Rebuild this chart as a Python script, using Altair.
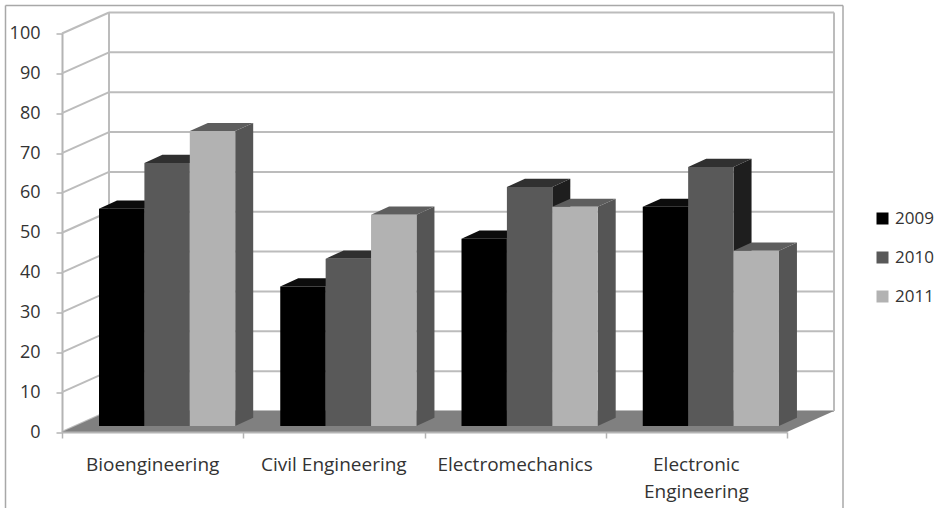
import altair as alt
import pandas as pd

# Values per programme and year
categories = ["Bioengineering", "Civil Engineering", "Electromechanics", "Electronic\nEngineering"]
years = ["2009", "2010", "2011"]
values_2009 = [54.5, 35, 47, 55]
values_2010 = [66, 42, 60, 65]
values_2011 = [74, 53, 55, 44]
y_ticks = list(range(0, 101, 10))
x_ticks = [0, 1, 2, 3, 4]

series = {"2009": values_2009, "2010": values_2010, "2011": values_2011}
front_colors = ["#000000", "#595959", "#b2b2b2"]
top_colors = ["#0c0c0c", "#303030", "#5e5e5e"]
side_colors = ["#050505", "#1e1e1e", "#555555"]

FONT = "Open Sans"
TEXT = "#333333"

# Plot geometry in pixels; one category spans CAT_PX, one value unit spans UNIT_PX
LEFT, TOP = 62, 33.5
CAT_PX = 181.25
UNIT_PX = 3.985
W, H = CAT_PX * 4, UNIT_PX * 100

# Oblique projection of the depth axis, expressed in data units
WALL_DX, WALL_DY = 47 / CAT_PX, 21 / UNIT_PX
BAR_DX, BAR_DY = 18 / CAT_PX, 8.2 / UNIT_PX
BAR_START, PLANE_DY = 37 / CAT_PX, 6 / UNIT_PX
BAR_W = 45.4 / CAT_PX

# Every layer shares the same scales and axis definitions
axis_style = dict(
    domainColor="#b4b4b4", domainWidth=2, tickColor="#b4b4b4", tickWidth=1.5, tickSize=6,
    labelFont=FONT, labelFontSize=18, labelColor=TEXT, grid=False, title=None,
)
x_scale = alt.Scale(domain=[0, 4], nice=False)
y_scale = alt.Scale(domain=[0, 100], nice=False)
x_axis = alt.Axis(values=x_ticks, labels=False, zindex=1, **axis_style)
y_axis = alt.Axis(values=y_ticks, labelPadding=16, **axis_style)
X = alt.X("x:Q", scale=x_scale, axis=x_axis)
Y = alt.Y("y:Q", scale=y_scale, axis=y_axis, stack=None)
Y2 = alt.Y2("y2:Q")
X2 = alt.X2("x2:Q")


def segments(rows):
    return pd.DataFrame(rows, columns=["x", "y", "x2", "y2"])


# Back wall and side wall gridlines
wall_rows = []
for t in y_ticks:
    wall_rows.append((0, t, WALL_DX, t + WALL_DY))
    wall_rows.append((WALL_DX, t + WALL_DY, 4 + WALL_DX, t + WALL_DY))
wall_rows.append((WALL_DX, WALL_DY, WALL_DX, 100 + WALL_DY))
wall_rows.append((4 + WALL_DX, WALL_DY, 4 + WALL_DX, 100 + WALL_DY))

walls = alt.Chart(segments(wall_rows)).mark_rule(color="#bcbcbc", strokeWidth=2).encode(x=X, x2=X2, y=Y, y2=Y2)

# Outer chart border, drawn as three open sides
fx0, fx1 = (5.5 - LEFT) / CAT_PX, (843 - LEFT) / CAT_PX
fy0, fy1 = (432 - 5.5) / UNIT_PX, (432 - 520) / UNIT_PX
frame = alt.Chart(segments([
    (fx0, fy0, fx1, fy0),
    (fx0, fy0, fx0, fy1),
    (fx1, fy0, fx1, fy1),
])).mark_rule(color="#a8a8a8", strokeWidth=1.5).encode(x=X, x2=X2, y=Y, y2=Y2)

# Floor parallelogram
floor_df = pd.DataFrame({
    "x": [0, WALL_DX, 4, 4 + WALL_DX],
    "y": [0, 0, 0, WALL_DY],
    "y2": [0, WALL_DY, WALL_DY, WALL_DY],
})
floor = alt.Chart(floor_df).mark_area(color="#808080", orient="vertical").encode(x=X, y=Y, y2=Y2)

# Category labels below the floor
label_df = pd.DataFrame({"x": [i + 0.5 for i in range(4)], "label": categories})
labels = alt.Chart(label_df).mark_text(
    font=FONT, fontSize=19, color=TEXT, lineBreak="\n", lineHeight=27, baseline="top",
    align="center",
).encode(
    x=X,
    y=alt.value(H + 24),
    text="label:N",
)

# One set of faces per year, so later years overlap the sides of earlier ones
bar_layers = []
for s, year in enumerate(years):
    sides, tops, fronts = [], [], []
    for c, v in enumerate(series[year]):
        x0 = c + BAR_START + s * BAR_W
        x1 = x0 + BAR_W
        b = PLANE_DY
        top = v + b
        bid = f"{year}-{c}"
        sides += [
            {"id": bid, "x": x1, "y": b, "y2": top},
            {"id": bid, "x": x1 + BAR_DX, "y": b + BAR_DY, "y2": top + BAR_DY},
        ]
        tops += [
            {"id": bid, "x": x0, "y": top, "y2": top},
            {"id": bid, "x": x0 + BAR_DX, "y": top, "y2": top + BAR_DY},
            {"id": bid, "x": x1, "y": top, "y2": top + BAR_DY},
            {"id": bid, "x": x1 + BAR_DX, "y": top + BAR_DY, "y2": top + BAR_DY},
        ]
        fronts.append({"year": year, "x": x0, "x2": x1, "y": b, "y2": top})
    bar_layers.append(alt.Chart(pd.DataFrame(sides)).mark_area(color=side_colors[s], orient="vertical").encode(
        x=X, y=Y, y2=Y2, detail="id:N"))
    bar_layers.append(alt.Chart(pd.DataFrame(tops)).mark_area(color=top_colors[s], orient="vertical").encode(
        x=X, y=Y, y2=Y2, detail="id:N"))
    bar_layers.append(alt.Chart(pd.DataFrame(fronts)).mark_rect().encode(
        x=X, x2=X2, y=Y, y2=Y2,
        color=alt.Color("year:N", scale=alt.Scale(domain=years, range=front_colors), legend=alt.Legend(
            title=None, orient="none", legendX=874 - LEFT, legendY=210 - TOP,
            symbolType="square", symbolSize=144, symbolStrokeWidth=0,
            labelFont=FONT, labelFontSize=17, labelColor=TEXT, labelOffset=4, rowPadding=21,
            padding=0,
        )),
    ))

chart = alt.layer(frame, walls, floor, *bar_layers, labels).properties(
    width=W,
    height=H,
    padding={"left": LEFT, "top": TOP, "right": 938 - LEFT - W, "bottom": 508 - TOP - H},
    autosize=alt.AutoSizeParams(type="none"),
    background="white",
).configure_view(stroke=None)

chart.save("out.html", embed_options={"renderer": "svg", "actions": False})
